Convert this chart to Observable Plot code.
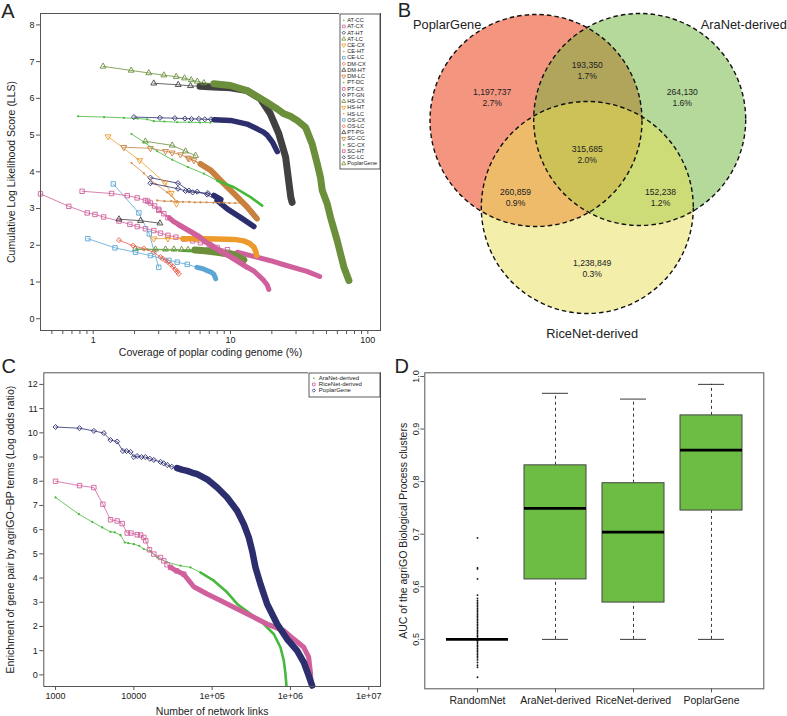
<!DOCTYPE html>
<html><head><meta charset="utf-8">
<script src="https://cdn.jsdelivr.net/npm/d3@7"></script>
<script src="https://cdn.jsdelivr.net/npm/@observablehq/plot@0.6"></script>
<style>
body{margin:0;background:#fff;}
#fig{position:relative;width:787px;height:716px;overflow:hidden;background:#fff;}
#fig svg{position:absolute;}
</style></head><body>
<div id="fig"></div>
<script>
// ---------------- DATA: panel A (coverage %, cumulative LLS) ----------------
const aSeries = ["AT-CC","AT-CX","AT-HT","AT-LC","CE-CX","CE-HT","CE-LC","DM-CX","DM-HT","DM-LC","PT-DC","PT-CX","PT-GN","HS-CX","HS-HT","HS-LC","OS-CX","OS-LC","PT-PG","SC-CC","SC-CX","SC-HT","SC-LC","PoplarGene"];
const AT_CC = [[2.07,1.89],[2.5,1.88],[2.84,1.88],[3.36,1.87],[3.87,1.86],[4.5,1.85],[5.3,1.84],[6.0,1.83],[7.0,1.80],[8.0,1.77],[9.5,1.71],[11,1.63],[12.5,1.54]];
const AT_CX = [[0.413,3.40],[0.664,3.06],[0.904,2.88],[1.03,2.84],[1.19,2.77],[1.54,2.66],[1.85,2.57],[2.09,2.51],[2.4,2.45],[2.76,2.40],[3.09,2.33],[3.5,2.27],[4.0,2.22],[4.6,2.17],[5.3,2.12],[6.04,2.07],[7.0,2.0],[8.0,1.94],[9.5,1.88],[11.2,1.81],[14,1.72],[19.6,1.58],[24.5,1.47],[36,1.29],[44.6,1.15]];
const AT_HT = [[2.61,3.84],[4.14,3.69],[4.97,3.49],[5.72,3.46],[6.77,3.38],[7.98,3.22],[9.46,2.99],[11.8,2.76],[14.8,2.51]];
const AT_LC = [[2.03,1.90],[2.84,1.89],[3.36,1.89],[3.87,1.89],[4.4,1.88],[4.9,1.88],[5.5,1.87],[6.5,1.85],[8,1.81],[10.6,1.74],[12.5,1.60]];
const CE_CX = [[1.28,4.96],[2.18,4.31],[3.33,3.70],[3.70,3.42],[4.04,3.13]];
const CE_HT = [[1.9,4.24],[2.34,3.96],[2.84,3.67],[3.46,3.44],[4.09,3.19]];
const CE_LC = [[1.40,3.67],[2.15,2.88],[2.56,2.31],[3.0,1.40]];
const DM_CX = [[1.54,2.14],[1.95,1.99],[2.34,1.91],[2.76,1.81],[3.09,1.68],[3.36,1.59],[3.66,1.48],[3.97,1.33],[4.2,1.22]];
const DM_HT = [[1.54,2.71],[2.21,2.67],[3.06,2.60]];
const DM_LC = [[1.67,4.67],[2.61,4.64],[3.36,4.56],[3.76,4.52],[4.32,4.47],[4.89,4.38],[5.41,4.31],[6.04,4.21],[7.16,4.04],[8.46,3.76],[10.6,3.40],[13.2,3.04],[15.6,2.72]];
const PT_DC = [[0.776,5.51],[1.2,5.49],[1.67,5.47],[2.1,5.45],[2.47,5.43],[2.76,5.38],[3.3,5.37],[4.09,5.35],[5,5.35],[6,5.34],[7.16,5.34]];
const PT_CX = [[0.83,3.47],[1.36,3.41],[1.77,3.35],[2.09,3.29],[2.4,3.22],[2.61,3.15],[2.8,3.07],[3.0,2.98],[3.27,2.86],[3.6,2.74],[3.87,2.64],[4.5,2.5],[6.04,2.22],[8,1.9],[10.6,1.65],[13,1.42],[14.8,1.3],[17.4,1.05],[18.5,0.92],[19,0.8]];
const PT_GN = [[1.98,5.49],[3.06,5.47],[3.93,5.46],[4.65,5.45],[5.2,5.44],[5.88,5.44],[6.5,5.43],[7.2,5.43],[7.6,5.42],[10,5.40],[12.5,5.32],[13.2,5.3],[15.6,5.17],[17.4,5.08],[18.5,5.0],[20.2,4.81],[21.9,4.55]];
const HS_CX = [[2.4,4.83],[3.76,4.72],[4.7,4.56],[5.56,4.44]];
const HS_HT = [[2.76,2.18],[3.5,2.18],[4.5,2.18],[6,2.18],[8,2.17],[10.6,2.16],[12.5,2.12],[13.8,2.05],[14.8,1.95],[15.3,1.82],[15.5,1.72]];
const HS_LC = [[2.92,3.22],[3.3,3.2],[3.7,3.2],[4.09,3.19],[4.5,3.18],[5,3.18],[5.5,3.17],[6.04,3.17],[6.7,3.17],[7.5,3.16],[8.3,3.16],[8.93,3.16],[9.8,3.15],[10.8,3.15],[11.8,3.15]];
const OS_CX = [[0.913,2.18],[1.44,1.93],[2.03,1.81],[2.61,1.72],[3.56,1.59],[4.09,1.54],[4.84,1.48],[5.7,1.40],[6.3,1.36],[6.76,1.31],[7.2,1.27],[7.56,1.21],[7.8,1.09]];
const OS_LC = [[3.2,1.64],[3.5,1.55],[3.8,1.42],[4.1,1.28]];
const PT_PG = [[2.76,6.41],[4.16,6.37],[5.11,6.34],[6,6.33],[7.5,6.31],[10,6.29],[13.2,6.21],[16.5,5.99],[19.5,5.58],[22.5,5.03],[25.2,4.40],[26.5,3.76],[27.5,3.3],[28.1,3.17]];
const SC_CC = [[5.0,4.36],[6.04,4.22],[7.16,4.05],[8.46,3.77],[10.6,3.41],[13.2,3.05],[15.4,2.75]];
const SC_CX = [[1.9,5.03],[2.34,4.81],[2.92,4.56],[3.76,4.33],[4.89,4.13],[6.39,3.95],[7.99,3.76],[10.6,3.58],[14,3.31],[17.0,3.08]];
const SC_HT = [[2.5,3.2],[3.0,2.95],[3.5,2.75],[4.2,2.55],[5.5,2.3],[7.5,1.95],[10,1.68],[13.2,1.40]];
const SC_LC = [[2.61,3.69],[4.14,3.54],[4.7,3.48],[5.3,3.44],[6.84,3.42],[7.56,3.36],[8.5,3.25]];
const PoplarGeneA = [[1.18,6.87],[1.89,6.76],[2.54,6.69],[3.27,6.63],[4.02,6.59],[4.62,6.55],[5.17,6.5],[5.73,6.46],[6.39,6.42],[7.56,6.40],[10,6.35],[13.2,6.21],[17.5,5.94],[21.9,5.71],[24.5,5.58],[27.3,5.51],[30.6,5.40],[35.2,5.21],[39.3,4.76],[42.8,4.22],[45.2,3.85],[46.6,3.49],[50.6,3.13],[53.5,2.76],[59.8,2.13],[66.9,1.41],[72.8,1.04]];
const aSeriesData = [AT_CC,AT_CX,AT_HT,AT_LC,CE_CX,CE_HT,CE_LC,DM_CX,DM_HT,DM_LC,PT_DC,PT_CX,PT_GN,HS_CX,HS_HT,HS_LC,OS_CX,OS_LC,PT_PG,SC_CC,SC_CX,SC_HT,SC_LC,PoplarGeneA];
// index at which each series becomes densely sampled (points overlap into a band)
const aDenseFrom = [5,19,5,6,5,5,4,9,3,7,11,9,8,4,2,15,7,4,3,1,6,3,5,9];
const aXTicks = [0.5,0.6,0.7,0.8,0.9,1,2,3,4,5,6,7,8,9,10,20,30,40,50,60,70,80,90,100];
const aXLabeled = [1,10,100];
const aYTicks = [0,1,2,3,4,5,6,7,8];

// ---------------- DATA: panel B (Venn) ----------------
const vennSets = ["PoplarGene","AraNet-derived","RiceNet-derived"];
const vennCounts = ["1,197,737","193,350","264,130","315,685","260,859","152,238","1,238,849"];
const vennPercents = ["2.7%","1.7%","1.6%","2.0%","0.9%","1.2%","0.3%"];

// ---------------- DATA: panel C (links, log odds) ----------------
const cSeries = ["AraNet-derived","RiceNet-derived","PoplarGene"];
const cAraNet = [[1000,7.33],[1985,6.64],[2940,6.32],[3940,6.09],[5035,5.91],[5700,5.89],[6760,5.77],[7680,5.47],[8500,5.44],[10000,5.40],[11700,5.33],[13400,5.20],[16300,5.10],[19860,4.85],[26700,4.65],[39400,4.51],[52900,4.44],[71000,4.23],[105000,3.89],[155400,3.41],[208400,2.93],[308000,2.52],[457000,2.10],[612000,1.69],[745000,1.14],[822000,0.59],[863000,0.04],[889000,-0.44]];
const cRiceNet = [[1000,8.0],[2023,7.82],[3085,7.74],[4020,7.05],[5035,6.41],[6120,6.36],[7100,6.25],[8220,5.86],[9200,5.86],[11040,5.79],[12200,5.78],[13400,5.68],[14200,5.54],[15840,5.17],[18000,4.99],[21900,4.85],[24150,4.71],[26500,4.55],[29400,4.44],[35000,4.30],[43400,4.16],[58300,3.64],[86300,3.34],[127700,3.07],[189000,2.79],[308000,2.45],[503600,2.10],[822000,1.83],[1100000,1.48],[1480000,1.14],[1710000,0.73],[1800000,0.11],[1830000,-0.3]];
const cPoplarGene = [[1000,10.24],[2023,10.19],[3085,10.08],[4140,9.99],[5035,9.70],[6120,9.64],[7240,9.25],[8060,9.25],[9080,9.21],[10000,9.0],[11000,9.04],[12500,9.0],[14000,9.0],[16000,8.93],[18000,8.88],[21900,8.8],[24000,8.74],[26700,8.67],[30500,8.60],[35700,8.54],[41000,8.48],[47900,8.43],[55000,8.36],[64400,8.29],[86300,8.08],[115800,7.74],[155400,7.33],[208400,6.78],[253500,6.23],[293600,5.68],[324000,5.13],[357500,4.44],[414000,3.75],[503600,2.93],[676000,2.10],[906000,1.48],[1216000,1.0],[1480000,0.52],[1710000,-0.03],[1890000,-0.44]];
const cSeriesData = [cAraNet, cRiceNet, cPoplarGene];
const cDenseFrom = [17, 18, 19];
const cXTicks = [1e3,1e4,1e5,1e6,1e7];
const cXTickLabels = ["1000","10000","1e+05","1e+06","1e+07"];
const cYTicks = [0,1,2,3,4,5,6,7,8,9,10,11,12];

// ---------------- DATA: panel D (AUC boxplots) ----------------
const dNames = ["RandomNet","AraNet-derived","RiceNet-derived","PoplarGene"];
const dLow = [0.5,0.5,0.5,0.5];
const dQ1 = [0.5,0.614,0.57,0.745];
const dMed = [0.5,0.749,0.704,0.860];
const dQ3 = [0.5,0.831,0.797,0.926];
const dHigh = [0.5,0.968,0.957,0.985];
const dRandomOutliers = [0.693,0.636,0.634,0.615,0.584,0.578,0.574,0.571,0.568,0.565,0.562,0.559,0.556,0.553,0.55,0.547,0.544,0.541,0.538,0.535,0.532,0.529,0.526,0.523,0.52,0.517,0.514,0.511,0.508,0.505,0.502,0.498,0.495,0.492,0.489,0.486,0.483,0.48,0.477,0.474,0.471,0.468,0.465,0.461,0.456,0.451,0.447,0.428];
const dYTicks = [0.5,0.6,0.7,0.8,0.9,1.0];

// ---------------- STYLE ----------------
const FF = '"Liberation Sans", Arial, Helvetica, sans-serif';
const sqrt3 = Math.sqrt(3);
const symbolDown = {draw(ctx, size){ const y = -Math.sqrt(size/(sqrt3*3)); ctx.moveTo(0,-2*y); ctx.lineTo(-sqrt3*y,y); ctx.lineTo(sqrt3*y,y); ctx.closePath(); }};
const SYM = {dot:"circle", square:"square", diamond:"diamond2", triangle:"triangle", down:symbolDown};
const SYMR = {dot:1.1, square:2.5, diamond:2.3, triangle:2.2, down:2.2};
const styleCycle = [
  {color:"#46b83b", sym:"dot"},
  {color:"#d0609c", sym:"square"},
  {color:"#2c2e6e", sym:"diamond"},
  {color:"#6b8f3b", sym:"triangle"},
  {color:"#ec9a2c", sym:"down"},
  {color:"#d2894a", sym:"dot"},
  {color:"#5ba6d5", sym:"square"},
  {color:"#eb5b47", sym:"diamond"},
  {color:"#414141", sym:"triangle"},
  {color:"#c8813f", sym:"down"}
];
const aTailW = {dot:2.6, square:5, diamond:5.5, triangle:7, down:5.5};
const cStyles = [{color:"#46b83b", sym:"dot"},{color:"#d0609c", sym:"square"},{color:"#2c2e6e", sym:"diamond"}];
const cTailW = {dot:2.6, square:5, diamond:6.5};
const baseStyle = {fontFamily: FF, fontSize: "9px", color: "#222", background: "transparent", overflow: "visible"};
const X = d => d[0], Y = d => d[1];

function seriesMarks(pts, dense, st, tailW, extraSym) {
  const marks = [Plot.line(pts, {x: X, y: Y, stroke: st.color, strokeWidth: 0.8})];
  if (dense < pts.length) {
    marks.push(Plot.line(pts.slice(dense), {x: X, y: Y, stroke: st.color, strokeWidth: tailW[st.sym], strokeLinecap: "round", strokeLinejoin: "round"}));
  }
  const isDot = st.sym === "dot";
  marks.push(Plot.dot(pts.slice(0, Math.min(pts.length, dense + (extraSym || 0))), {x: X, y: Y, symbol: SYM[st.sym], r: SYMR[st.sym],
    fill: isDot ? st.color : "none", stroke: isDot ? "none" : st.color, strokeWidth: 0.9}));
  return marks;
}

function legendPlot(names, styles, w, h, y0, step, symX, textX, fs) {
  const idx = names.map((_, i) => i);
  return Plot.plot({
    width: w, height: h, margin: 0,
    x: {domain: [0, w], axis: null}, y: {domain: [h, 0], axis: null},
    style: {...baseStyle, background: "white"},
    marks: [
      Plot.frame({fill: "white", stroke: "#333", strokeWidth: 0.8, inset: 0.5}),
      ...idx.map(i => {
        const st = styles[i]; const isDot = st.sym === "dot";
        return Plot.dot([i], {x: symX, y: d => y0 + d * step, symbol: SYM[st.sym], r: isDot ? 0.8 : 1.5,
          fill: isDot ? st.color : "none", stroke: isDot ? "none" : st.color, strokeWidth: 0.8});
      }),
      Plot.text(idx, {x: textX, y: i => y0 + i * step, text: i => names[i], textAnchor: "start", fontSize: fs, fill: "#222"})
    ]
  });
}

const fig = document.getElementById("fig");
function place(node, left, top) { node.style.left = left + "px"; node.style.top = top + "px"; fig.appendChild(node); }
const label = (txt, opts) => Plot.text([txt], {text: d => d, textAnchor: "middle", lineAnchor: "middle", ...opts});

// ---------------- PANEL A ----------------
const aMarks = [];
aSeries.forEach((name, i) => aMarks.push(...seriesMarks(aSeriesData[i], aDenseFrom[i], styleCycle[i % 10], aTailW, 0)));
const panelA = Plot.plot({
  width: 395, height: 360, marginLeft: 40, marginRight: 15, marginTop: 13, marginBottom: 30,
  x: {type: "log", domain: [0.413, 123.7]},
  y: {domain: [-0.32, 8.31]},
  style: baseStyle,
  marks: [
    ...aMarks,
    Plot.frame({stroke: "#555"}),
    Plot.axisX({ticks: aXTicks, tickSize: 4, tickPadding: 2, stroke: "#555", tickFormat: d => aXLabeled.includes(d) ? String(d) : "", label: null, fontSize: 9}),
    Plot.axisY({ticks: aYTicks, tickSize: 4, tickPadding: 2, stroke: "#555", tickFormat: d => String(d), label: null, fontSize: 9}),
    label("Coverage of poplar coding genome (%)", {frameAnchor: "bottom", dy: 22, fontSize: 10.5}),
    label("Cumulative Log Likelihood Score (LLS)", {frameAnchor: "left", dx: -29, rotate: -90, fontSize: 10.5}),
    label("A", {frameAnchor: "top-left", dx: -32.5, dy: -2, fontSize: 20})
  ]
});
place(panelA, 0, 0);
place(legendPlot(aSeries, aSeries.map((_, i) => styleCycle[i % 10]), 41, 156, 6.8, 6.23, 4.3, 7.8, 5.6), 339, 13);

// ---------------- PANEL B (Venn) ----------------
const vennLayout = {r: 106, cx: [140.5, 244.2, 191.8], cy: [120, 119, 207]};
const vennFill = ["#e92d00", "#6bb337", "#e7df55"];
const vennLabelPos = {x: [51.7, 348.3, 196.7], y: [24, 24, 333]};
const vennRegionPos = {x: [96.7, 191.7, 286.7, 191.7, 120, 265, 196.7], y: [92, 65, 92, 148.5, 192, 192, 263]};
const vIdx = [0, 1, 2];
const rIdx = vennCounts.map((_, i) => i);
const panelB = Plot.plot({
  width: 392, height: 360, margin: 0,
  x: {domain: [0, 392], axis: null}, y: {domain: [360, 0], axis: null},
  style: baseStyle,
  marks: [
    ...vIdx.map(i => Plot.dot([i], {x: j => vennLayout.cx[j], y: j => vennLayout.cy[j], r: vennLayout.r, fill: vennFill[i], fillOpacity: 0.5, stroke: "none"})),
    Plot.dot(vIdx, {x: j => vennLayout.cx[j], y: j => vennLayout.cy[j], r: vennLayout.r, fill: "none", stroke: "#111", strokeWidth: 1.4, strokeDasharray: "4.5,3"}),
    Plot.text(vIdx, {x: j => vennLabelPos.x[j], y: j => vennLabelPos.y[j], text: j => vennSets[j], fontSize: 12.8, fill: "#222"}),
    Plot.text(rIdx, {x: j => vennRegionPos.x[j], y: j => vennRegionPos.y[j], text: j => vennCounts[j], fontSize: 8.6, fill: "#222"}),
    Plot.text(rIdx, {x: j => vennRegionPos.x[j], y: j => vennRegionPos.y[j] + 10.8, text: j => vennPercents[j], fontSize: 8.6, fill: "#222"}),
    label("B", {frameAnchor: "top-left", dx: 9, dy: 10.5, fontSize: 20})
  ]
});
place(panelB, 395, 0);

// ---------------- PANEL C ----------------
const cMarks = [];
cSeries.forEach((name, i) => cMarks.push(...seriesMarks(cSeriesData[i], cDenseFrom[i], cStyles[i], cTailW, 3)));
const panelC = Plot.plot({
  width: 395, height: 356, marginLeft: 43.3, marginRight: 15, marginTop: 12.3, marginBottom: 30,
  x: {type: "log", domain: [Math.pow(10, 2.85), Math.pow(10, 7.15)]},
  y: {domain: [-0.48, 12.48]},
  style: baseStyle,
  marks: [
    ...cMarks,
    Plot.frame({stroke: "#555"}),
    Plot.axisX({ticks: cXTicks, tickSize: 4, tickPadding: 2, stroke: "#555", tickFormat: d => cXTickLabels[cXTicks.indexOf(d)], label: null, fontSize: 9}),
    Plot.axisY({ticks: cYTicks, tickSize: 4, tickPadding: 2, stroke: "#555", tickFormat: d => String(d), label: null, fontSize: 9}),
    label("Number of network links", {frameAnchor: "bottom", dy: 25.5, fontSize: 10.5}),
    label("Enrichment of gene pair by agriGO\u2212BP terms (Log odds ratio)", {frameAnchor: "left", dx: -33, rotate: -90, fontSize: 10.5}),
    label("C", {frameAnchor: "top-left", dx: -35, dy: -6.5, fontSize: 20})
  ]
});
place(panelC, 0, 360);
place(legendPlot(cSeries, cStyles, 72, 25, 5.8, 6.1, 5.3, 10.3, 6), 308, 372);

// ---------------- PANEL D ----------------
const dIdx = dNames.map((_, i) => i);
const dx = i => dNames[i];
const panelD = Plot.plot({
  width: 392, height: 356, marginLeft: 29.3, marginRight: 23.7, marginTop: 12.3, marginBottom: 27.7,
  x: {type: "band", domain: dNames, paddingInner: 0.2, paddingOuter: 0.26},
  y: {domain: [0.406, 1.007]},
  style: baseStyle,
  marks: [
    Plot.ruleX(dIdx, {x: dx, y1: i => dQ3[i], y2: i => dHigh[i], stroke: "#222", strokeWidth: 0.9, strokeDasharray: "3,3"}),
    Plot.ruleX(dIdx, {x: dx, y1: i => dLow[i], y2: i => dQ1[i], stroke: "#222", strokeWidth: 0.9, strokeDasharray: "3,3"}),
    Plot.tickY(dIdx, {x: dx, y: i => dHigh[i], stroke: "#222", strokeWidth: 0.9, insetLeft: 18, insetRight: 18}),
    Plot.tickY(dIdx, {x: dx, y: i => dLow[i], stroke: "#222", strokeWidth: 0.9, insetLeft: 18, insetRight: 18}),
    Plot.barY(dIdx, {x: dx, y1: i => dQ1[i], y2: i => dQ3[i], fill: "#6dbd45", stroke: "#444", strokeWidth: 1}),
    Plot.dot(dRandomOutliers, {x: () => "RandomNet", y: d => d, r: 0.9, fill: "#111", stroke: "none"}),
    Plot.tickY(dIdx, {x: dx, y: i => dMed[i], stroke: "#000", strokeWidth: 2.8}),
    Plot.frame({stroke: "#555"}),
    Plot.axisX({tickSize: 4, tickPadding: 4, stroke: "#555", label: null, fontSize: 10.5}),
    Plot.axisY({ticks: dYTicks, tickSize: 4, tickPadding: 2, tickRotate: -90, stroke: "#555", tickFormat: d => d.toFixed(1), label: null, fontSize: 9}),
    label("AUC of the agriGO Biological Process clusters", {frameAnchor: "left", dx: -21, rotate: -90, fontSize: 10.5}),
    label("D", {frameAnchor: "top-left", dx: -23, dy: -6, fontSize: 20})
  ]
});
place(panelD, 395, 360);
</script>
</body></html>
